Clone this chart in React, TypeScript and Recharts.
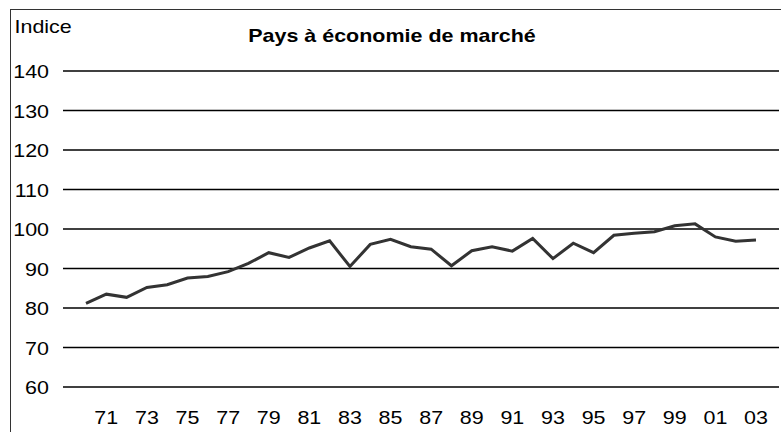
import React from 'react';
import { LineChart, Line, XAxis, YAxis, CartesianGrid } from 'recharts';

// années 1970 à 2003, libellés sur deux chiffres
const years = [
  '70', '71', '72', '73', '74', '75', '76', '77', '78', '79',
  '80', '81', '82', '83', '84', '85', '86', '87', '88', '89',
  '90', '91', '92', '93', '94', '95', '96', '97', '98', '99',
  '00', '01', '02', '03',
];

const indice = [
  81.2, 83.5, 82.7, 85.2, 85.9, 87.6, 88.0, 89.2, 91.3, 94.0,
  92.8, 95.2, 97.0, 90.5, 96.1, 97.4, 95.5, 94.9, 90.7, 94.5,
  95.5, 94.4, 97.6, 92.5, 96.4, 94.0, 98.4, 98.9, 99.3, 100.8,
  101.3, 98.0, 96.9, 97.2,
];

const yTicks = [60, 70, 80, 90, 100, 110, 120, 130, 140];

const data = years.map((year, i) => ({ year, indice: indice[i] }));

const font = '"Liberation Sans", Arial, sans-serif';
// le texte de l'original est un peu étiré en largeur
const stretch = 1.13;

const XTick = ({ x, y, payload, index }: any) => {
  if (index % 2 === 0) return null;
  return (
    <text
      transform={`translate(${x},${y + 15}) scale(${stretch},1)`}
      textAnchor="middle"
      fill="#000"
      fontSize={19}
      fontFamily={font}
    >
      {payload.value}
    </text>
  );
};

const YTick = ({ x, y, payload }: any) => (
  <text
    transform={`translate(${x},${y + 7}) scale(${stretch},1)`}
    textAnchor="end"
    fill="#000"
    fontSize={19}
    fontFamily={font}
  >
    {payload.value}
  </text>
);

export default function App() {
  return (
    <div
      style={{
        position: 'absolute',
        left: 0,
        top: 0,
        width: 781,
        height: 432,
        overflow: 'hidden',
        background: '#fff',
      }}
    >
      <div
        style={{
          position: 'absolute',
          left: 10,
          top: 9,
          width: 800,
          height: 460,
          border: '1px solid #333',
        }}
      />
      <div style={{ position: 'absolute', left: 0, top: 0 }}>
        <LineChart width={781} height={432} data={data} margin={{ top: 71, right: 2, bottom: 0, left: 0 }}>
          <CartesianGrid horizontal vertical={false} stroke="#000" strokeWidth={1.5} />
          <XAxis
            dataKey="year"
            axisLine={false}
            tickLine={false}
            tickSize={0}
            tickMargin={22}
            height={45}
            interval={0}
            padding={{ left: 23, right: 23 }}
            tick={<XTick />}
          />
          <YAxis
            domain={[60, 140]}
            ticks={yTicks}
            axisLine={false}
            tickLine={false}
            tickSize={0}
            tickMargin={14}
            width={63}
            tick={<YTick />}
          />
          <Line
            type="linear"
            dataKey="indice"
            stroke="#333"
            strokeWidth={3}
            dot={false}
            isAnimationActive={false}
          />
        </LineChart>
      </div>
      <svg width={781} height={432} style={{ position: 'absolute', left: 0, top: 0 }}>
        <text
          transform={`translate(14.5,33) scale(${stretch},1)`}
          fill="#000"
          fontSize={19}
          fontFamily={font}
        >
          Indice
        </text>
        <text
          transform={`translate(392,42) scale(${stretch},1)`}
          textAnchor="middle"
          fill="#000"
          fontSize={19}
          fontWeight="bold"
          fontFamily={font}
        >
          Pays à économie de marché
        </text>
      </svg>
    </div>
  );
}
